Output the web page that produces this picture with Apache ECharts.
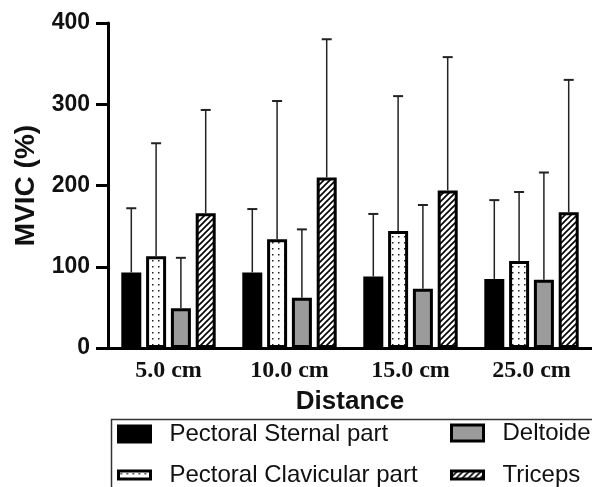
<!DOCTYPE html>
<html lang="en">
<head>
<meta charset="UTF-8">
<title>MVIC by distance</title>
<script src="https://cdn.jsdelivr.net/npm/echarts@6/dist/echarts.min.js"></script>
</head>
<body style="margin:0;background:#fff">
<div id="main" style="width:592px;height:487px;"></div>
<script type="text/javascript">
// data: mean and top of the SD whisker
var distances = ['5.0 cm', '10.0 cm', '15.0 cm', '25.0 cm'];
var muscles = ['Pectoral Sternal part', 'Pectoral Clavicular part', 'Deltoide', 'Triceps'];
var sternalMean = [93, 93, 88, 85];
var sternalTop = [172, 171, 165, 182];
var clavicularMean = [113, 134, 144, 107];
var clavicularTop = [252, 304, 310, 192];
var deltoideMean = [49, 62, 73, 84];
var deltoideTop = [111, 146, 176, 216];
var tricepsMean = [166, 210, 194, 167];
var tricepsTop = [293, 380, 358, 330];

var means = [sternalMean, clavicularMean, deltoideMean, tricepsMean];
var tops = [sternalTop, clavicularTop, deltoideTop, tricepsTop];

var myChart = echarts.init(document.getElementById('main'));

// fill patterns
function dotPattern() {
    var c = document.createElement('canvas');
    c.width = 6; c.height = 6;
    var g = c.getContext('2d');
    g.fillStyle = '#fff';
    g.fillRect(0, 0, 6, 6);
    g.fillStyle = '#222';
    g.fillRect(2, 2, 1.5, 1.5);
    return c;
}
function hatchPattern() {
    var c = document.createElement('canvas');
    c.width = 6; c.height = 6;
    var g = c.getContext('2d');
    g.fillStyle = '#fff';
    g.fillRect(0, 0, 6, 6);
    g.strokeStyle = '#000';
    g.lineWidth = 1.6;
    g.beginPath();
    g.moveTo(0, 6); g.lineTo(6, 0);
    g.moveTo(-3, 3); g.lineTo(3, -3);
    g.moveTo(3, 9); g.lineTo(9, 3);
    g.stroke();
    return c;
}

var fills = [
    '#000',
    {image: dotPattern(), repeat: 'repeat'},
    '#9b9b9b',
    {image: hatchPattern(), repeat: 'repeat'}
];

var barWidth = 20;
var barGap = 0.24;
var step = barWidth * (1 + barGap);

var series = [];
muscles.forEach(function (name, k) {
    series.push({
        name: name,
        type: 'bar',
        data: means[k],
        barWidth: barWidth,
        barGap: (barGap * 100) + '%',
        itemStyle: {
            color: fills[k],
            borderColor: '#000',
            borderWidth: 3
        },
        emphasis: {disabled: true},
        animation: false
    });
});
muscles.forEach(function (name, k) {
    var errData = distances.map(function (d, i) {
        return [i, means[k][i], tops[k][i]];
    });
    series.push({
        name: name + ' SD',
        type: 'custom',
        data: errData,
        encode: {x: 0, y: 2},
        z: 3,
        animation: false,
        renderItem: function (params, api) {
            var base = api.coord([api.value(0), api.value(1)]);
            var top = api.coord([api.value(0), api.value(2)]);
            var x = base[0] + (k - 1.5) * step;
            return {
                type: 'group',
                children: [{
                    type: 'line',
                    shape: {x1: x, y1: base[1], x2: x, y2: top[1]},
                    style: {stroke: '#222', lineWidth: 1.5}
                }, {
                    type: 'line',
                    shape: {x1: x - 5, y1: top[1], x2: x + 5, y2: top[1]},
                    style: {stroke: '#222', lineWidth: 2}
                }]
            };
        }
    });
});

function legendFor(k, left, top, h) {
    return {
        data: [{
            name: muscles[k],
            icon: 'rect',
            itemStyle: {color: fills[k], borderColor: '#000', borderWidth: 3}
        }],
        left: left,
        top: top,
        padding: 0,
        itemWidth: 32,
        itemHeight: h,
        selectedMode: false,
        textStyle: {
            fontFamily: 'Liberation Sans',
            fontSize: 24,
            lineHeight: 24,
            color: '#111',
            padding: [0, 0, 0, 14]
        }
    };
}

var option = {
    backgroundColor: '#fff',
    animation: false,
    grid: {left: 108, right: -8, top: 23, bottom: 139},
    legend: [
        legendFor(0, 117, 422, 16),
        legendFor(1, 117, 463, 8),
        legendFor(2, 450, 421, 16),
        legendFor(3, 450, 463, 8)
    ],
    graphic: [{
        type: 'rect',
        shape: {x: 111.5, y: 419.5, width: 520, height: 100},
        style: {fill: 'none', stroke: '#333', lineWidth: 1.5},
        silent: true
    }],
    xAxis: {
        type: 'category',
        data: distances,
        axisLine: {lineStyle: {color: '#000', width: 3}},
        axisTick: {alignWithLabel: true, length: 13, lineStyle: {color: '#000', width: 3}},
        axisLabel: {
            fontFamily: 'Liberation Serif',
            fontWeight: 'bold',
            fontSize: 24,
            color: '#111',
            margin: 11
        },
        name: 'Distance',
        nameLocation: 'middle',
        nameGap: 41,
        nameTextStyle: {
            fontFamily: 'Liberation Sans',
            fontWeight: 'bold',
            fontSize: 26,
            color: '#111'
        }
    },
    yAxis: {
        type: 'value',
        min: 0,
        max: 400,
        interval: 100,
        axisLine: {show: true, lineStyle: {color: '#000', width: 3}},
        axisTick: {show: true, length: 12, lineStyle: {color: '#000', width: 3}},
        splitLine: {show: false},
        axisLabel: {
            fontFamily: 'Liberation Sans',
            fontWeight: 'bold',
            fontSize: 23,
            color: '#111',
            margin: 18
        },
        name: 'MVIC (%)',
        nameLocation: 'middle',
        nameGap: 63,
        nameTextStyle: {
            fontFamily: 'Liberation Sans',
            fontWeight: 'bold',
            fontSize: 28,
            color: '#111'
        }
    },
    series: series
};

myChart.setOption(option);
</script>
</body>
</html>
